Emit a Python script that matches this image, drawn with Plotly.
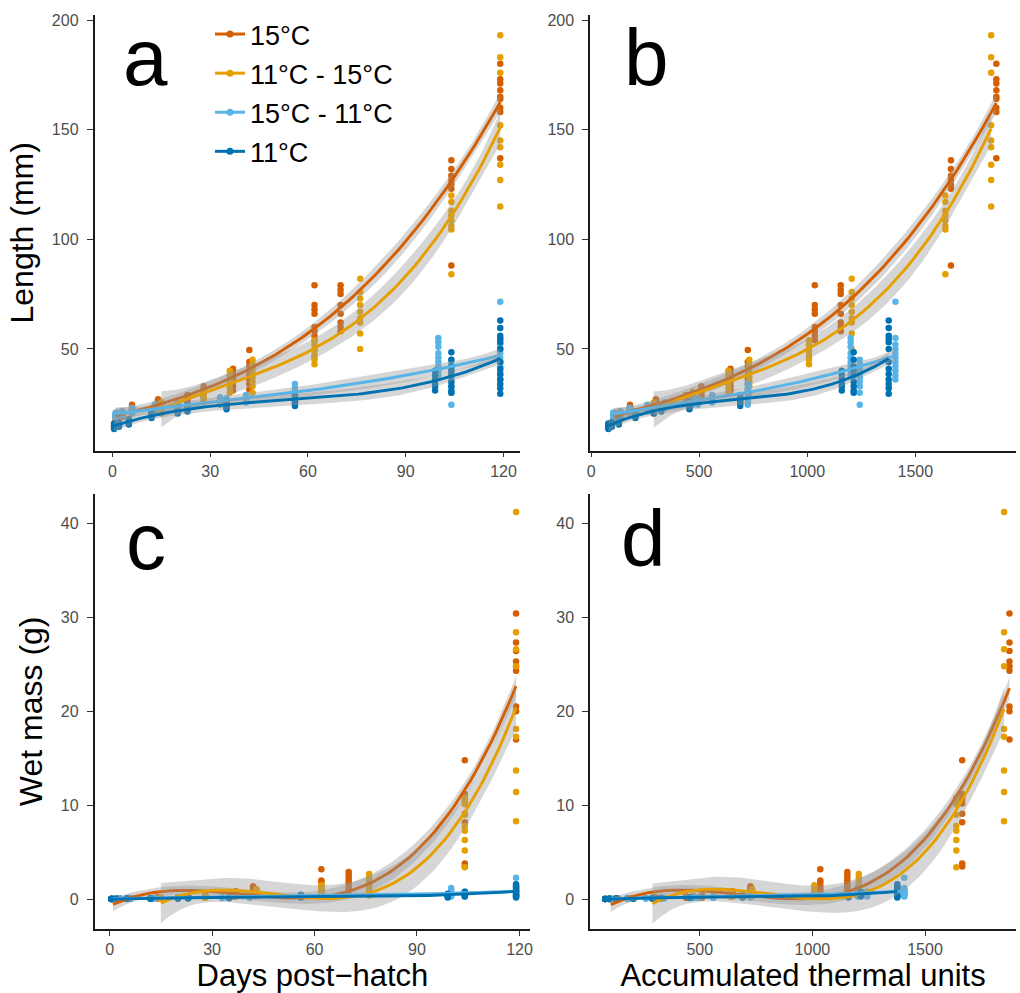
import numpy as np
import plotly.graph_objects as go

# ---- groups -------------------------------------------------------------
GROUPS = ["15°C", "11°C - 15°C", "15°C - 11°C", "11°C"]
COLORS = ["#D55E00", "#E69F00", "#56B4E9", "#0072B2"]

# ---- 15°C ---------------------------------------------------------------
DAYS_15 = [1, 3, 6, 14, 23, 28, 37, 42, 62, 70, 104, 119]
ATU_15 = [105, 135, 180, 300, 440, 510, 645, 725, 1035, 1155, 1665, 1875]
LEN_15 = [
    [17, 18, 18.5, 19, 19.5, 20, 20.5], [19, 19.5, 20, 20.5, 21, 21.5],
    [21, 21.5, 22, 22.5, 23, 23.5, 24.5], [23.5, 24, 25, 25.5, 26, 26.5, 27],
    [26, 26.5, 27.5, 28, 28.5, 29], [28, 28.5, 29.5, 30.5, 31, 32, 33],
    [31, 33, 35, 36.5, 38, 39.5, 41], [31.5, 34, 36, 38, 40, 42, 44, 49.5],
    [79, 70, 68, 66, 60, 58, 56, 54], [79, 77, 75, 70, 66, 62, 60, 58],
    [136, 132, 129, 127, 125, 123, 88],
    [180, 173, 171, 168, 165, 164, 160, 158, 137],
]
MASS_15 = [
    [0.03, 0.03, 0.04, 0.04, 0.05, 0.05, 0.05, 0.06, 0.06, 0.07],
    [0.05, 0.05, 0.06, 0.06, 0.07, 0.07, 0.08, 0.08, 0.09, 0.1],
    [0.07, 0.08, 0.08, 0.09, 0.1, 0.1, 0.11, 0.12, 0.13, 0.14],
    [0.11, 0.12, 0.13, 0.14, 0.15, 0.16, 0.17, 0.18, 0.2, 0.22],
    [0.16, 0.18, 0.19, 0.2, 0.22, 0.23, 0.25, 0.26, 0.28, 0.3],
    [0.2, 0.22, 0.25, 0.27, 0.3, 0.32, 0.34, 0.36, 0.39, 0.42],
    [0.3, 0.35, 0.4, 0.45, 0.5, 0.55, 0.6, 0.65, 0.75, 0.85],
    [0.4, 0.5, 0.55, 0.65, 0.7, 0.8, 0.9, 1.0, 1.2, 1.4],
    [3.2, 2.0, 1.8, 1.5, 1.2, 1.0, 0.8], [2.9, 2.6, 2.3, 2.0, 1.7, 1.4, 1.1, 0.9],
    [14.8, 11.2, 10.9, 10.6, 10.2, 9.1, 8.2, 3.8, 3.5],
    [30.4, 27.3, 26.4, 25.3, 24.8, 24.3, 20.5, 20.0, 17.0],
]

# ---- 11°C - 15°C --------------------------------------------------------
DAYS_1115 = [15, 28, 36, 43, 62, 76, 104, 119]
ATU_1115 = [290, 470, 635, 732, 1008, 1206, 1639, 1851]
LEN_1115 = [
    [20.5, 21.5, 22, 23, 24, 24.5, 25.5], [26, 27, 28, 29, 30, 30.5],
    [30, 32, 34, 36, 38, 40], [30, 33, 35, 37, 39, 41, 43, 45],
    [54, 52, 50, 49, 47, 46, 45, 43],
    [82, 76, 73, 70, 67, 64, 62, 57, 50],
    [120, 117, 113, 111, 108.5, 106, 104.5, 84],
    [193, 183, 176, 152, 145, 142, 134, 127, 115],
]
MASS_1115 = [
    [0.08, 0.09, 0.1, 0.11, 0.12, 0.13, 0.14, 0.15, 0.17, 0.19],
    [0.18, 0.2, 0.22, 0.24, 0.26, 0.28, 0.3, 0.32, 0.35, 0.38],
    [0.28, 0.32, 0.36, 0.4, 0.44, 0.48, 0.52, 0.58, 0.64, 0.7],
    [0.35, 0.42, 0.5, 0.58, 0.65, 0.72, 0.8, 0.9, 1.0, 1.1],
    [1.5, 1.3, 1.1, 0.9, 0.8, 0.7, 0.6, 0.5],
    [2.7, 2.3, 1.9, 1.6, 1.3, 1.0, 0.7, 0.4],
    [10.8, 10.4, 10.1, 9.0, 7.8, 7.3, 6.3, 5.2, 3.4],
    [41.2, 28.4, 26.6, 24.8, 18.1, 17.3, 13.7, 11.4, 8.3],
]

# ---- 15°C - 11°C --------------------------------------------------------
DAYS_1511 = [1, 3, 6, 13, 20, 33, 35, 41, 56, 100, 104, 119]
ATU_1511 = [103, 133, 178, 260, 340, 470, 495, 560, 725, 1201, 1243, 1408]
LEN_1511 = [
    [18.5, 19, 19.5, 20, 20.5, 21], [19.5, 20, 20.5, 21, 21.5],
    [20.5, 21, 21.5, 22, 22.5, 23], [21.5, 22, 23, 23.5, 24, 24.5],
    [23, 23.5, 24, 25, 25.5], [24.5, 25, 26, 26.5, 27.5, 28],
    [24.5, 25.5, 26, 27, 27.5], [25.5, 26, 27, 27.5, 28.5, 29],
    [24.5, 26, 27.5, 29, 30.5, 32, 34],
    [55, 53, 51, 48, 46, 44, 42, 40, 38],
    [45, 43, 41, 39, 37, 35, 33, 30, 24.5],
    [71.5, 55, 52, 50, 48, 46, 44, 42, 40, 38, 36],
]
MASS_1511 = [
    [0.03, 0.04, 0.05, 0.05, 0.06, 0.07], [0.05, 0.06, 0.07, 0.08, 0.09],
    [0.07, 0.08, 0.09, 0.1, 0.11, 0.12], [0.09, 0.1, 0.11, 0.12, 0.13, 0.14],
    [0.11, 0.12, 0.14, 0.15, 0.16], [0.14, 0.16, 0.18, 0.2, 0.22, 0.24],
    [0.15, 0.17, 0.19, 0.21, 0.23], [0.17, 0.2, 0.23, 0.26, 0.29, 0.32],
    [0.2, 0.25, 0.3, 0.35, 0.4, 0.45, 0.5],
    [0.3, 0.45, 0.6, 0.8, 1.0, 1.2], [0.3, 0.4, 0.5, 0.6, 0.7, 0.8],
    [2.3, 1.2, 1.0, 0.9, 0.8, 0.7, 0.6, 0.5, 0.4, 0.3],
]

# ---- 11°C ---------------------------------------------------------------
DAYS_11 = [0.5, 2, 5, 12, 20, 23, 35, 56, 99, 104, 119]
ATU_11 = [80, 96, 128, 205, 290, 325, 455, 690, 1160, 1215, 1377]
LEN_11 = [
    [13.5, 14, 14.5, 15, 15.5, 16], [14.5, 15, 15.5, 16, 16.5],
    [15.5, 16, 16.5, 17, 17.5, 18], [18.5, 19, 19.5, 20.5, 21, 21.5],
    [20.5, 21, 22, 22.5, 23, 23.5], [21.5, 22, 23, 23.5, 24, 24.5],
    [22.5, 23, 24, 24.5, 25, 26], [24, 25, 25.5, 26.5, 27, 28, 29],
    [40, 38, 36, 34, 33, 31], [48.5, 45, 42, 40, 38, 35, 33, 31, 30],
    [63, 59.5, 56, 54.5, 53, 50, 44, 41, 38.5, 36, 34, 32, 29.5],
]
MASS_11 = [
    [0.02, 0.03, 0.03, 0.04, 0.04, 0.05], [0.03, 0.04, 0.04, 0.05, 0.05],
    [0.04, 0.05, 0.06, 0.07, 0.08, 0.08], [0.07, 0.08, 0.09, 0.1, 0.11, 0.12],
    [0.09, 0.1, 0.11, 0.12, 0.13, 0.14], [0.1, 0.11, 0.12, 0.13, 0.14, 0.15],
    [0.13, 0.15, 0.17, 0.19, 0.21, 0.23], [0.18, 0.22, 0.26, 0.3, 0.34, 0.38, 0.42],
    [0.2, 0.3, 0.35, 0.45, 0.5, 0.6], [0.3, 0.4, 0.5, 0.6, 0.7, 0.8],
    [1.6, 1.4, 1.3, 1.1, 0.9, 0.8, 0.6, 0.4, 0.3, 0.2],
]

SERIES = [
    (DAYS_15, ATU_15, LEN_15, MASS_15),
    (DAYS_1115, ATU_1115, LEN_1115, MASS_1115),
    (DAYS_1511, ATU_1511, LEN_1511, MASS_1511),
    (DAYS_11, ATU_11, LEN_11, MASS_11),
]

X_TITLES = ["Days post\u2212hatch", "Accumulated thermal units"]
Y_TITLES = ["Length (mm)", "Wet mass (g)"]
PANEL_LETTERS = ["a", "b", "c", "d"]

T95 = 1.98
RIBBON = "rgba(153,153,153,0.4)"
FONT = "Liberation Sans, Arial, sans-serif"


def expand(xs, groups):
    """Repeat each sampling position for every fish measured there."""
    out_x, out_y = [], []
    for x, vals in zip(xs, groups):
        out_x += [x] * len(vals)
        out_y += list(vals)
    return np.array(out_x, float), np.array(out_y, float)


def cubic_fit(x, y, n=80):
    """Cubic least-squares smooth with a 95% confidence band."""
    mu, sd = x.mean(), x.std()
    X = np.vander((x - mu) / sd, 4)
    beta, *_ = np.linalg.lstsq(X, y, rcond=None)
    resid = y - X @ beta
    s2 = resid @ resid / (len(y) - 4)
    cov = s2 * np.linalg.inv(X.T @ X)
    xg = np.linspace(x.min(), x.max(), n)
    Xg = np.vander((xg - mu) / sd, 4)
    yg = Xg @ beta
    se = np.sqrt(np.einsum("ij,jk,ik->i", Xg, cov, Xg))
    return xg, yg, yg - T95 * se, yg + T95 * se


fig = go.Figure()

# panel -> (axis suffix, use ATU?, use mass?)
PANELS = [("", False, False), ("2", True, False), ("3", False, True), ("4", True, True)]

for suffix, use_atu, use_mass in PANELS:
    xa, ya = "x" + suffix, "y" + suffix
    data = []
    for (days, atu, lens, mass) in SERIES:
        xs = atu if use_atu else days
        vals = mass if use_mass else lens
        data.append(expand(xs, vals))
    # points first
    for (x, y), col in zip(data, COLORS):
        fig.add_trace(go.Scatter(
            x=x, y=y, mode="markers", xaxis=xa, yaxis=ya, showlegend=False,
            marker=dict(color=col, size=6.5, line=dict(width=0)), hoverinfo="skip"))
    # smooths with confidence ribbons on top
    for (x, y), col in zip(data, COLORS):
        xg, yg, lo, hi = cubic_fit(x, y)
        fig.add_trace(go.Scatter(
            x=np.concatenate([xg, xg[::-1]]), y=np.concatenate([hi, lo[::-1]]),
            fill="toself", fillcolor=RIBBON, line=dict(width=0), mode="lines",
            xaxis=xa, yaxis=ya, showlegend=False, hoverinfo="skip"))
        fig.add_trace(go.Scatter(
            x=xg, y=yg, mode="lines", line=dict(color=col, width=2.9),
            xaxis=xa, yaxis=ya, showlegend=False, hoverinfo="skip"))

# legend keys
for name, col in zip(GROUPS, COLORS):
    fig.add_trace(go.Scatter(
        x=[None], y=[None], mode="lines+markers", name=name, legendgroup=name,
        line=dict(color=col, width=3), marker=dict(color=col, size=7)))

W, H = 1020, 993


def px_x(a, b):
    return [a / W, b / W]


def px_y(top, bottom):
    return [1 - bottom / H, 1 - top / H]


axis_common = dict(
    showline=True, linecolor="#1a1a1a", linewidth=1.6, showgrid=False, zeroline=False,
    ticks="outside", ticklen=5, tickwidth=1.4, tickcolor="#333333",
    tickfont=dict(family=FONT, size=16, color="#4D4D4D"), mirror=False,
)
y_axis_common = dict(axis_common, ticklen=6, ticklabelstandoff=5)
x_title_font = dict(family=FONT, size=31, color="black")
y_title_font = dict(family=FONT, size=32, color="black")

fig.update_layout(
    width=W, height=H, margin=dict(l=0, r=0, t=0, b=0),
    plot_bgcolor="white", paper_bgcolor="white",
    xaxis=dict(axis_common, domain=px_x(92, 520), range=[-5.5, 125.2], anchor="y",
               tickvals=[0, 30, 60, 90, 120]),
    yaxis=dict(y_axis_common, domain=px_y(12, 449), range=[3.6, 202.3], anchor="x",
               tickvals=[50, 100, 150, 200],
               title=dict(text=Y_TITLES[0], font=y_title_font, standoff=9)),
    xaxis2=dict(axis_common, domain=px_x(590, 1018), range=[-4.6, 1966], anchor="y2",
                tickvals=[0, 500, 1000, 1500]),
    yaxis2=dict(y_axis_common, domain=px_y(12, 449), range=[3.6, 202.3], anchor="x2",
                tickvals=[50, 100, 150, 200]),
    xaxis3=dict(axis_common, domain=px_x(92, 530), range=[-4.4, 123.2], anchor="y3",
                tickvals=[0, 30, 60, 90, 120],
                title=dict(text=X_TITLES[0], font=x_title_font, standoff=8)),
    yaxis3=dict(y_axis_common, domain=px_y(492, 929), range=[-3.18, 43.16], anchor="x3",
                tickvals=[0, 10, 20, 30, 40],
                title=dict(text=Y_TITLES[1], font=y_title_font, standoff=9)),
    xaxis4=dict(axis_common, domain=px_x(590, 1018), range=[13, 1904], anchor="y4",
                tickvals=[500, 1000, 1500],
                title=dict(text=X_TITLES[1], font=x_title_font, standoff=8)),
    yaxis4=dict(y_axis_common, domain=px_y(492, 929), range=[-3.18, 43.16], anchor="x4",
                tickvals=[0, 10, 20, 30, 40]),
    legend=dict(x=208 / W, y=1 - 7 / H, xanchor="left", yanchor="top",
                font=dict(family=FONT, size=27, color="black"),
                bgcolor="rgba(0,0,0,0)", itemwidth=30, tracegroupgap=1),
    showlegend=True,
)

# panel letters
LETTER_POS = [(143, 55), (647, 55), (144, 540), (644, 537)]
for letter, (lx, ly) in zip(PANEL_LETTERS, LETTER_POS):
    fig.add_annotation(text=letter, x=lx / W, y=1 - ly / H, xref="paper", yref="paper",
                       showarrow=False, xanchor="center", yanchor="middle",
                       font=dict(family=FONT, size=80, color="black"))

fig.write_html("out.html")
